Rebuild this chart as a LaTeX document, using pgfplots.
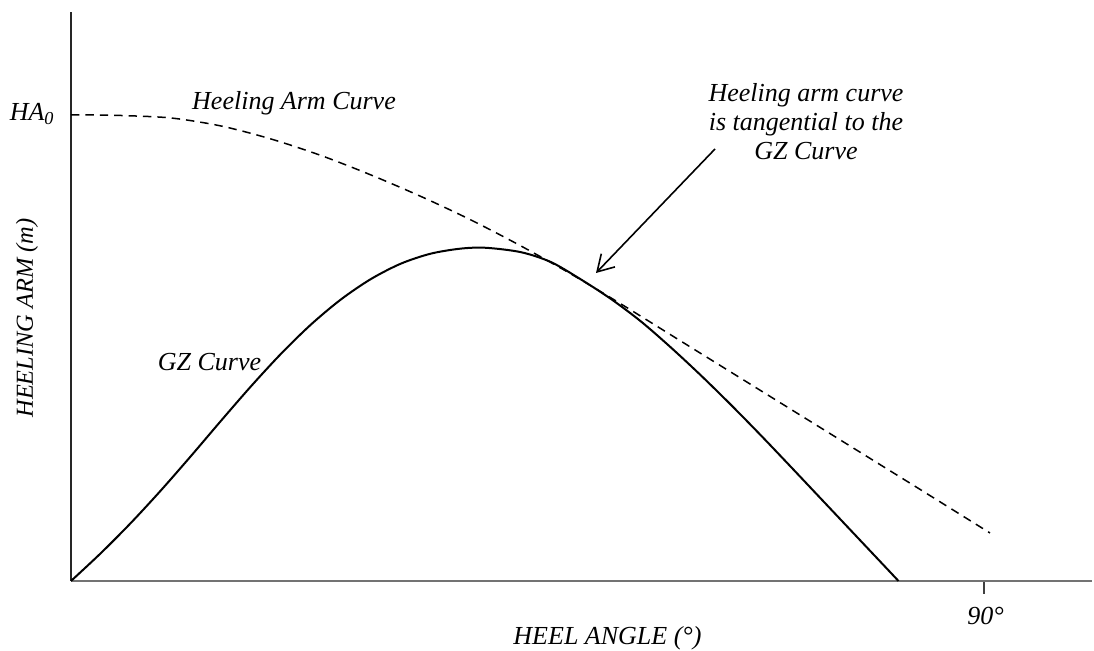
\documentclass[border=0pt]{standalone}
\usepackage{fontspec}
\setmainfont{Liberation Serif}
\usepackage{pgfplots}
\pgfplotsset{compat=1.18}
\usetikzlibrary{arrows.meta}
\begin{document}
\begin{tikzpicture}
\path[use as bounding box] (0pt,0pt) rectangle (547pt,325.5pt);
\begin{axis}[
  at={(35.5pt,35pt)}, anchor=south west,
  scale only axis, width=510.5pt, height=284.5pt,
  xmin=0, xmax=1021, ymin=0, ymax=569,
  axis lines*=left,
  x axis line style={draw=black!55, line width=0.8pt},
  y axis line style={draw=black!85, line width=0.8pt},
  xtick={913}, xticklabels={}, ytick=\empty,
  tick align=outside, major tick length=6.5pt,
  xtick style={draw=black!75, line width=1pt},
  clip=false,
  font=\fontsize{13}{14.5}\selectfont\itshape,
]
% GZ curve
\addplot[black, line width=1pt, smooth, tension=0.5] coordinates {
(0,0) (30,28) (60,58.2) (90,90.7) (120,125) (150,160.2) (180,194.7) (210,227.2)
(240,256.5) (270,281.6) (300,302) (330,317.4) (360,327.4) (390,332.4) (415,333.2)
(450,328.8) (480,318.9) (510,301.5) (540,282) (570,259.5) (600,233.4) (630,205.5)
(660,176.1) (690,145.5) (720,114) (750,82.2) (780,50.4) (810,18.6) (827.5,0)};
% Heeling arm curve
\addplot[black, line width=0.75pt, dash pattern=on 4.2pt off 3pt, smooth, tension=0.5] coordinates {
(0,466) (25,466) (50,465.5) (100,463) (150,455) (200,442) (250,425.5)
(300,406) (350,384.5) (400,361) (450,335) (500,307) (550,277) (600,246)
(650,215) (700,184) (750,153) (800,122) (850,91) (919,48)};
\node[anchor=east, inner sep=0pt] at (axis cs:-16,467) {HA\textsubscript{0}};
\node[inner sep=0pt] at (axis cs:223,478) {Heeling Arm Curve};
\node[inner sep=0pt] at (axis cs:138.5,219) {GZ Curve};
\node[align=center, inner sep=0pt] at (axis cs:735,459) {Heeling arm curve\\is tangential to the\\GZ Curve};
\draw[line width=0.8pt, -{Straight Barb[length=8pt, width=9.5pt]}] (axis cs:644,432) -- (axis cs:525,308);
\node[inner sep=0pt] at (axis cs:914.5,-35) {90°};
\node[inner sep=0pt] at (axis cs:536.5,-57) {HEEL ANGLE (°)};
\node[inner sep=0pt, rotate=90, font=\fontsize{12.2}{14}\selectfont\itshape] at (axis cs:-44,263) {HEELING ARM (m)};
\end{axis}
\end{tikzpicture}
\end{document}
